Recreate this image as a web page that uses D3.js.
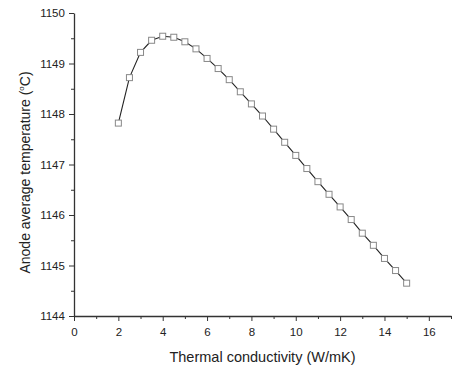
<!DOCTYPE html>
<html>
<head>
<meta charset="utf-8">
<script src="https://cdn.jsdelivr.net/npm/d3@7"></script>
<style>
  body { margin: 0; background: #fff; }
  text { font-family: "Liberation Sans", Arial, sans-serif; fill: #222; }
</style>
</head>
<body>
<div id="chart"></div>
<script>
// thermal conductivity (W/mK)
var conductivity = [2, 2.5, 3, 3.5, 4, 4.5, 5, 5.5, 6, 6.5, 7, 7.5, 8, 8.5, 9, 9.5,
    10, 10.5, 11, 11.5, 12, 12.5, 13, 13.5, 14, 14.5, 15];
// anode average temperature (C)
var temperature = [1147.82, 1148.72, 1149.22, 1149.46, 1149.54, 1149.52, 1149.43, 1149.29,
    1149.10, 1148.90, 1148.68, 1148.44, 1148.20, 1147.96, 1147.70, 1147.44,
    1147.18, 1146.92, 1146.66, 1146.41, 1146.16, 1145.91, 1145.64, 1145.40,
    1145.14, 1144.90, 1144.65];
var xTicks = [0, 2, 4, 6, 8, 10, 12, 14, 16];
var yTicks = [1144, 1145, 1146, 1147, 1148, 1149, 1150];

function init()
{
    const width = 454;
    const height = 369;
    var margin = {left: 74, top: 13, right: 3, bottom: 53};

    var svg = d3.select("#chart")
        .append("svg")
        .attr("width", width)
        .attr("height", height);

    var x = d3.scaleLinear()
        .domain([0, 17])
        .range([margin.left, width - margin.right]);

    var y = d3.scaleLinear()
        .domain([1144, 1150])
        .range([height - margin.bottom, margin.top]);

    // minor ticks first
    svg.append("g")
        .attr("transform", "translate(0," + (height - margin.bottom) + ")")
        .call(d3.axisBottom(x).tickValues(d3.range(1, 18, 2)).tickSize(3).tickFormat(""))
        .call(g => g.select(".domain").remove());
    svg.append("g")
        .attr("transform", "translate(" + margin.left + ",0)")
        .call(d3.axisLeft(y).tickValues(d3.range(1144.5, 1150, 1)).tickSize(3).tickFormat(""))
        .call(g => g.select(".domain").remove());

    var xAxis = svg.append("g")
        .attr("transform", "translate(0," + (height - margin.bottom) + ")")
        .call(d3.axisBottom(x).tickValues(xTicks).tickSize(5).tickSizeOuter(0).tickFormat(d3.format("d")));
    xAxis.selectAll("text").attr("font-size", 11.5).attr("dy", "1.05em");

    var yAxis = svg.append("g")
        .attr("transform", "translate(" + margin.left + ",0)")
        .call(d3.axisLeft(y).tickValues(yTicks).tickSize(5).tickSizeOuter(0).tickFormat(d3.format("d")));
    yAxis.selectAll("text").attr("font-size", 11.5).attr("dx", "-0.1em");

    svg.selectAll(".domain").attr("stroke", "#333").attr("stroke-width", 1.3);
    svg.selectAll(".tick line").attr("stroke", "#333");

    svg.append("text")
        .attr("x", (margin.left + width - margin.right) / 2)
        .attr("y", 362)
        .attr("text-anchor", "middle")
        .attr("font-size", 14.5)
        .text("Thermal conductivity (W/mK)");

    var yt = svg.append("text")
        .attr("transform", "translate(30," + ((margin.top + height - margin.bottom) / 2 + 8) + ") rotate(-90)")
        .attr("text-anchor", "middle")
        .attr("font-size", 14);
    yt.append("tspan").text("Anode average temperature (");
    yt.append("tspan").attr("font-size", 8).attr("dy", -6).text("o");
    yt.append("tspan").attr("dy", 6).text("C)");

    var line = d3.line()
        .x(function(d, i) { return x(conductivity[i]); })
        .y(function(d) { return y(d); });

    svg.append("path")
        .datum(temperature)
        .attr("fill", "none")
        .attr("stroke", "#222")
        .attr("stroke-width", 1.1)
        .attr("d", line);

    svg.selectAll("rect.pt")
        .data(temperature)
        .enter()
        .append("rect")
        .attr("class", "pt")
        .attr("x", function(d, i) { return x(conductivity[i]) - 3; })
        .attr("y", function(d) { return y(d) - 3; })
        .attr("width", 6)
        .attr("height", 6)
        .attr("fill", "#fff")
        .attr("stroke", "#888")
        .attr("stroke-width", 1);
}

init();
</script>
</body>
</html>
